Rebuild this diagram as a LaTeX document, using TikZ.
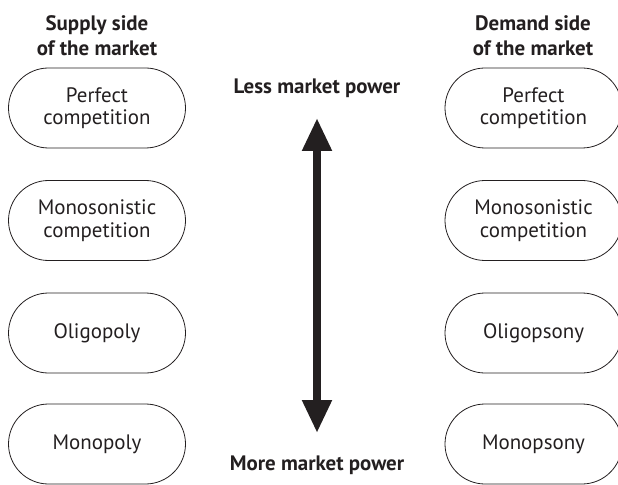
\documentclass[tikz,border=0pt]{standalone}
\usepackage{fontspec}
\setmainfont{PT Sans}
\usetikzlibrary{shapes.misc,arrows.meta}
\definecolor{ink}{HTML}{231F20}
\begin{document}
\begin{tikzpicture}[x=1bp,y=-1bp,
  mkt/.style={draw=ink, line width=0.8bp, rounded rectangle, minimum width=177bp, minimum height=80bp,
    align=center, font=\fontsize{21}{22.5}\selectfont, text=ink, inner sep=0pt},
  head/.style={align=center, font=\fontsize{21}{25}\selectfont\bfseries, text=ink},
  power/.style={font=\fontsize{21}{25}\selectfont\bfseries, text=ink}]
\useasboundingbox (0,0) rectangle (618,485);
\node[head] (sh) at (97,36) {Supply side\\of the market};
\node[head] (dh) at (533,36) {Demand side\\of the market};
\node[mkt] (s1) at (97,108) {Perfect\\competition};
\node[mkt] (s2) at (97,220.5) {Monosonistic\\competition};
\node[mkt] (s3) at (97,333) {Oligopoly};
\node[mkt] (s4) at (97,444) {Monopoly};
\node[mkt] (d1) at (533.5,108) {Perfect\\competition};
\node[mkt] (d2) at (533.5,220.5) {Monosonistic\\competition};
\node[mkt] (d3) at (533.5,333) {Oligopsony};
\node[mkt] (d4) at (533.5,444) {Monopsony};
\node[power] (less) at (317,88) {Less market power};
\node[power] (more) at (317,465) {More market power};
\coordinate (atop) at (317,118);
\coordinate (abot) at (317,433);
\draw[ink, line width=8bp, {Triangle[length=33bp,width=28bp]}-{Triangle[length=33bp,width=28bp]}] (atop) -- (abot);
\end{tikzpicture}
\end{document}
